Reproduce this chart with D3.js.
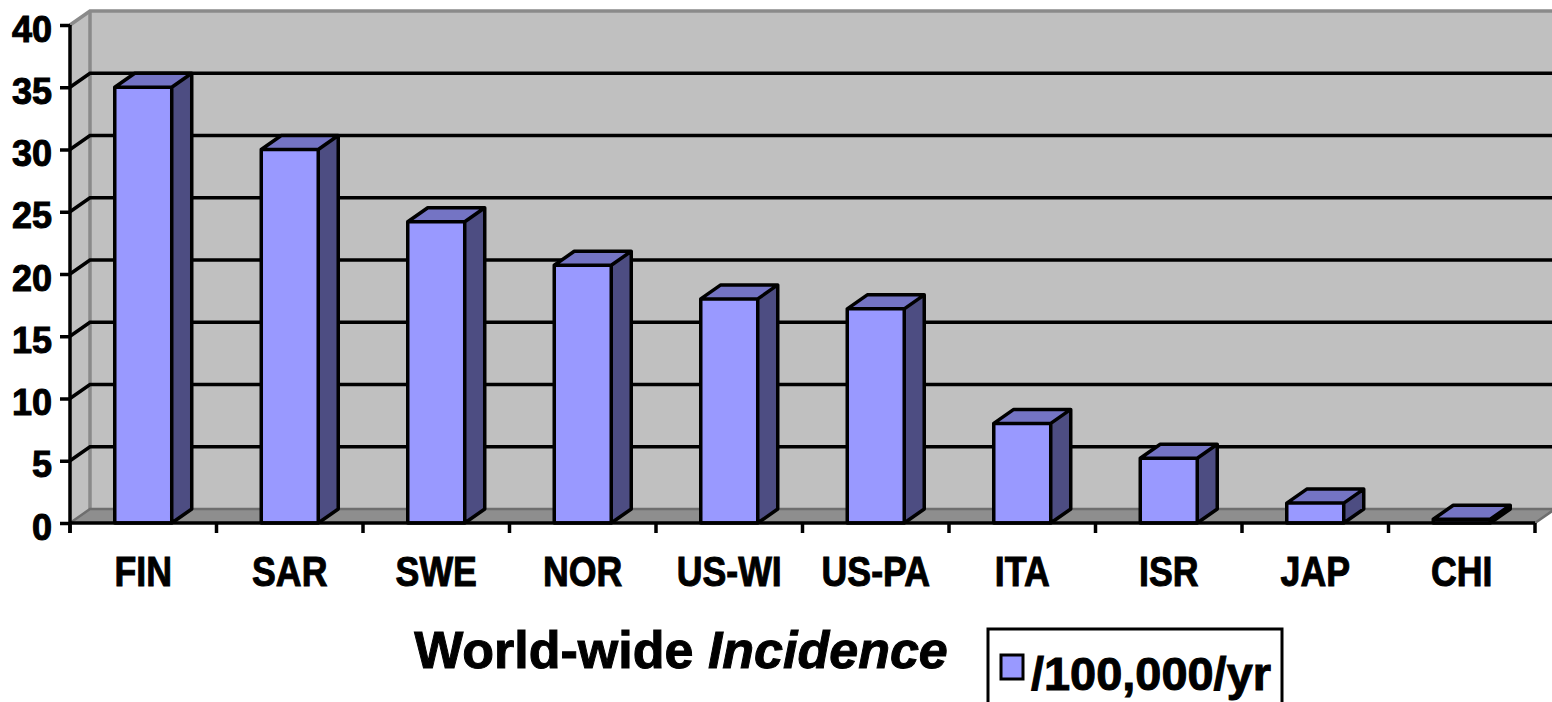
<!DOCTYPE html>
<html>
<head>
<meta charset="utf-8">
<script src="https://cdn.jsdelivr.net/npm/d3@7"></script>
<style>
  html, body { margin: 0; padding: 0; background: #fff; }
  svg { display: block; }
  text { font-family: "Liberation Sans", Arial, sans-serif; font-weight: bold; fill: #000; stroke: #000; stroke-width: 1px; }
</style>
</head>
<body>
<svg id="chart" width="1552" height="702"></svg>
<script>
// Incidence per 100,000 per year, by country / region
const categories = ["FIN", "SAR", "SWE", "NOR", "US-WI", "US-PA", "ITA", "ISR", "JAP", "CHI"];
const incidence = [35, 30, 24.2, 20.7, 18, 17.2, 8, 5.2, 1.6, 0.3];
const yTicks = [0, 5, 10, 15, 20, 25, 30, 35, 40];
const titleMain = "World-wide ";
const titleItalic = "Incidence";
const seriesName = "/100,000/yr";

const svg = d3.select("#chart");

// Front plane of the plot and 3-D depth offset
const plotLeft = 70, plotRight = 1535, plotBottom = 523, plotTop = 25;
const dx = 20, dy = -14;

const x = d3.scaleBand().domain(categories).range([plotLeft, plotRight])
  .paddingInner(0.611).paddingOuter(0.3055);
const y = d3.scaleLinear().domain([0, 40]).range([plotBottom, plotTop]);

const wallFill = "#c0c0c0", wallEdge = "#8a8a8a", floorFill = "#8e8e8e";
const frontCol = "#9999ff", topCol = "#7474c4", sideCol = "#4d4d82";
const lineW = 3.5;

const path = pts => "M" + pts.map(p => p.join(",")).join("L") + "Z";

// Back wall, side wall and floor
const backR = plotRight + dx + 10;
svg.append("path").attr("d", path([[plotLeft + dx, y(0) + dy], [plotLeft + dx, y(40) + dy], [backR, y(40) + dy], [backR, y(0) + dy]]))
  .attr("fill", wallFill);
svg.append("path").attr("d", path([[plotLeft, y(0)], [plotLeft, y(40)], [plotLeft + dx, y(40) + dy], [plotLeft + dx, y(0) + dy]]))
  .attr("fill", wallFill);
svg.append("path").attr("d", path([[plotLeft, y(0)], [plotLeft + dx, y(0) + dy], [plotRight + dx, y(0) + dy], [plotRight, y(0)]]))
  .attr("fill", floorFill);

// Wall edges
svg.append("path")
  .attr("d", `M${plotLeft},${y(40)}L${plotLeft + dx},${y(40) + dy}L${backR},${y(40) + dy}`)
  .attr("fill", "none").attr("stroke", wallEdge).attr("stroke-width", 3.5);
svg.append("line")
  .attr("x1", plotLeft + dx).attr("x2", plotLeft + dx).attr("y1", y(40) + dy).attr("y2", y(0) + dy)
  .attr("stroke", wallEdge).attr("stroke-width", 3.5);
svg.append("path")
  .attr("d", `M${plotLeft},${y(0)}L${plotLeft + dx},${y(0) + dy}L${plotRight + dx},${y(0) + dy}L${plotRight},${y(0)}`)
  .attr("fill", "none").attr("stroke", "#6e6e6e").attr("stroke-width", 2.5);

// Gridlines across side and back walls
svg.append("g").selectAll("path")
  .data(yTicks.filter(t => t > 0 && t < 40))
  .join("path")
  .attr("d", t => `M${plotLeft},${y(t)}L${plotLeft + dx},${y(t) + dy}L${backR},${y(t) + dy}`)
  .attr("fill", "none").attr("stroke", "#000").attr("stroke-width", lineW);

// Columns
const bars = svg.append("g").selectAll("g").data(categories.map((c, i) => ({ c, v: incidence[i] }))).join("g");
bars.each(function (d) {
  const g = d3.select(this);
  const x0 = x(d.c), x1 = x0 + x.bandwidth(), y0 = y(0), y1 = y(d.v);
  g.append("path").attr("d", path([[x1, y0], [x1, y1], [x1 + dx, y1 + dy], [x1 + dx, y0 + dy]]))
    .attr("fill", sideCol);
  g.append("path").attr("d", path([[x0, y1], [x0 + dx, y1 + dy], [x1 + dx, y1 + dy], [x1, y1]]))
    .attr("fill", topCol);
  g.append("rect").attr("x", x0).attr("y", y1).attr("width", x1 - x0).attr("height", y0 - y1)
    .attr("fill", frontCol);
  g.append("path")
    .attr("d", `M${x0},${y0}L${x0},${y1}L${x0 + dx},${y1 + dy}L${x1 + dx},${y1 + dy}L${x1 + dx},${y0 + dy}L${x1},${y0}Z M${x1},${y0}L${x1},${y1}L${x1 + dx},${y1 + dy} M${x1},${y1}L${x0},${y1}`)
    .attr("fill", "none").attr("stroke", "#000").attr("stroke-width", lineW).attr("stroke-linejoin", "round");
});

// Value axis
const yAxis = svg.append("g").attr("transform", `translate(${plotLeft},0)`)
  .call(d3.axisLeft(y).tickValues(yTicks).tickSize(10).tickPadding(8).tickFormat(d3.format("d")));
yAxis.select(".domain").attr("d", `M0,${y(40)}V${y(0) + 10}`).attr("stroke", "#000").attr("stroke-width", lineW);
yAxis.selectAll(".tick line").attr("stroke", "#000").attr("stroke-width", lineW);
yAxis.selectAll(".tick text").attr("font-size", 36).attr("font-family", "Liberation Sans, Arial, sans-serif")
  .attr("font-weight", "bold").attr("dy", "0.45em").attr("stroke", "#000").attr("stroke-width", 1);

// Category axis with ticks at band boundaries
const step = x.step();
const bounds = categories.map(c => x(c) - (step - x.bandwidth()) / 2).concat([plotRight]);
const xAxis = svg.append("g");
xAxis.append("line").attr("x1", plotLeft).attr("x2", plotRight).attr("y1", plotBottom).attr("y2", plotBottom)
  .attr("stroke", "#000").attr("stroke-width", lineW);
xAxis.selectAll("line.tk").data(bounds).join("line").attr("class", "tk")
  .attr("x1", d => d).attr("x2", d => d).attr("y1", plotBottom).attr("y2", plotBottom + 10)
  .attr("stroke", "#000").attr("stroke-width", lineW);
xAxis.selectAll("text").data(categories).join("text")
  .attr("x", d => x(d) + x.bandwidth() / 2).attr("y", 586)
  .attr("text-anchor", "middle").attr("font-size", 42)
  .attr("transform", d => { const cx = x(d) + x.bandwidth() / 2; return `translate(${cx},0) scale(0.85,1) translate(${-cx},0)`; })
  .text(d => d);

// Title
const title = svg.append("text").attr("x", 681).attr("y", 668).attr("text-anchor", "middle").attr("font-size", 52);
title.append("tspan").text(titleMain);
title.append("tspan").attr("font-style", "italic").text(titleItalic);

// Legend
const lg = svg.append("g");
lg.append("rect").attr("x", 988).attr("y", 629).attr("width", 294).attr("height", 80)
  .attr("fill", "#fff").attr("stroke", "#000").attr("stroke-width", 3);
lg.append("rect").attr("x", 1001).attr("y", 655).attr("width", 22).attr("height", 24)
  .attr("fill", frontCol).attr("stroke", "#000").attr("stroke-width", 3);
lg.append("text").attr("x", 1031).attr("y", 690).attr("font-size", 46)
  .attr("textLength", 240).attr("lengthAdjust", "spacingAndGlyphs").text(seriesName);
</script>
</body>
</html>
